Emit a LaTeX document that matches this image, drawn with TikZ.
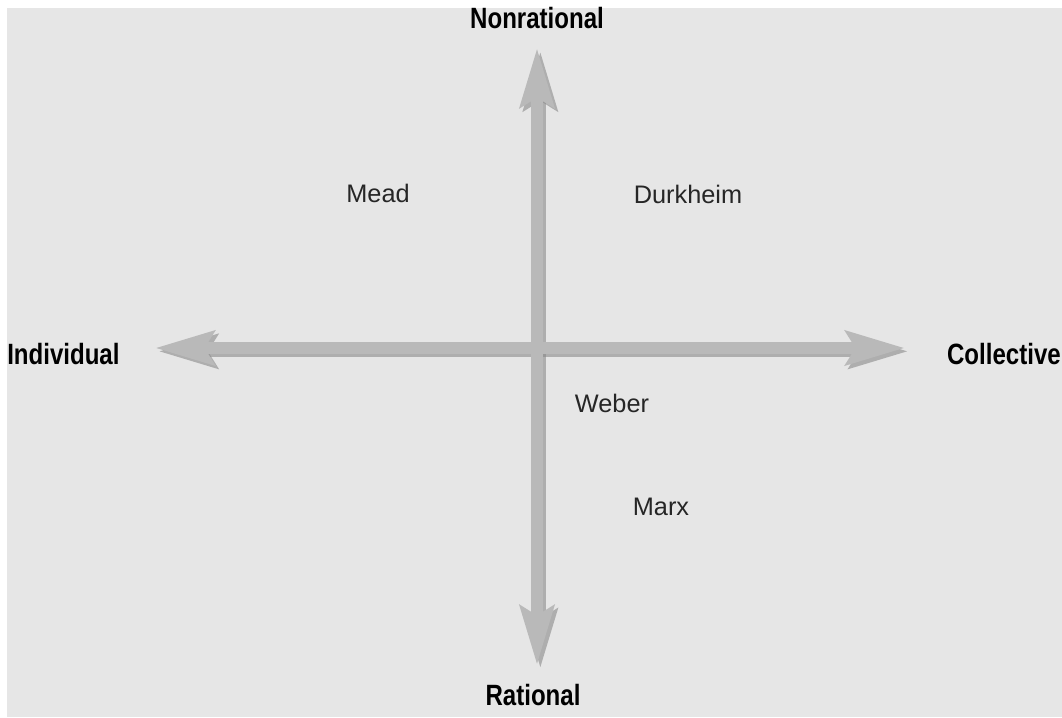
\documentclass[tikz,border=0pt]{standalone}
\usepackage{fontspec}
\setmainfont{Liberation Sans}
\newfontfamily\axisfont[FakeStretch=0.82]{Liberation Sans}
\usetikzlibrary{arrows.meta,positioning}
\definecolor{bgray}{HTML}{E6E6E6}
\definecolor{agray}{HTML}{B9B9B9}
\definecolor{sgray}{HTML}{8A8A8A}

\begin{document}
\begin{tikzpicture}[
  x=0.75pt, y=-0.75pt,
  axislabel/.style={font=\axisfont\bfseries\fontsize{22}{25}\selectfont, inner sep=0pt},
  theorist/.style={font=\fontsize{19}{22}\selectfont, text=black!85, inner sep=0pt},
  axis/.style={line width=9pt, draw=agray,
    {Stealth[length=44pt, width=25pt, inset=7pt]}-{Stealth[length=44pt, width=25pt, inset=7pt]}},
  shadow/.style={line width=9pt, draw=sgray, opacity=0.6,
    {Stealth[length=44pt, width=25pt, inset=7pt]}-{Stealth[length=44pt, width=25pt, inset=7pt]}},
]
\useasboundingbox (0,0) rectangle (1062,717);
\fill[white] (0,0) rectangle (1062,717);
\fill[bgray] (7,8) rectangle (1062,717);

% axis ends
\coordinate (up) at (537,48);
\coordinate (down) at (537,665);
\coordinate (left) at (155,348);
\coordinate (right) at (905,348);

% shadows
\draw[shadow, transform canvas={xshift=2.5pt, yshift=-2.5pt}] (up) -- (down);
\draw[shadow, transform canvas={xshift=2.5pt, yshift=-2.5pt}] (left) -- (right);

% axes
\draw[axis] (up) -- (down);
\draw[axis] (left) -- (right);

% axis labels
\node[axislabel] (nonrat) at (537,18) {Nonrational};
\node[axislabel] (rat) at (533,695) {Rational};
\node[axislabel, anchor=west] (indiv) at (7,354) {Individual};
\node[axislabel, anchor=east] (coll) at (1061,354) {Collective};

% theorists
\node[theorist] (mead) at (378,193) {Mead};
\node[theorist] (durk) at (688,194) {Durkheim};
\node[theorist] (weber) at (612,403) {Weber};
\node[theorist] (marx) at (661,507) {Marx};
\end{tikzpicture}
\end{document}
